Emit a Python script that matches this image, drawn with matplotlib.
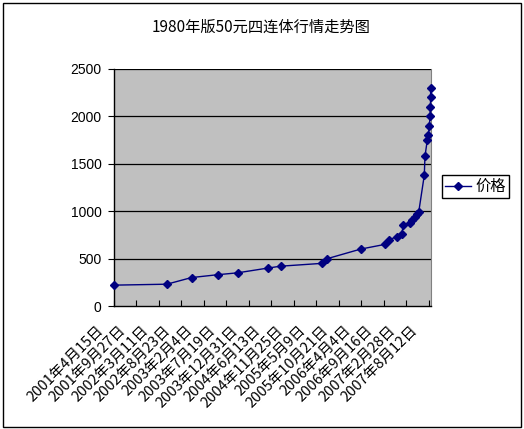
import pandas as pd
import matplotlib
matplotlib.use("Agg")
import matplotlib.pyplot as plt
import matplotlib.patches as patches
from matplotlib.transforms import ScaledTranslation

plt.rcParams['font.family'] = ['Noto Sans CJK SC', 'DejaVu Sans']

# price data
dates = ['2001-04-15', '2002-05-08', '2002-11-05', '2003-05-16', '2003-10-10',
         '2004-05-18', '2004-08-20', '2005-06-23', '2005-07-30', '2006-03-30',
         '2006-09-25', '2006-10-26', '2006-12-20', '2007-01-26', '2007-02-07',
         '2007-03-28', '2007-04-15', '2007-05-02', '2007-05-19', '2007-05-31',
         '2007-07-11', '2007-07-16', '2007-08-02', '2007-08-10', '2007-08-17',
         '2007-08-22', '2007-08-25', '2007-08-26', '2007-08-27']
prices = [220, 230, 300, 330, 350, 400, 420, 450, 500, 600,
          650, 700, 730, 760, 850, 880, 910, 940, 970, 990,
          1380, 1580, 1750, 1800, 1900, 2000, 2100, 2200, 2300]

tick_dates = ['2001-04-15', '2001-09-27', '2002-03-11', '2002-08-23', '2003-02-04',
              '2003-07-19', '2003-12-31', '2004-06-13', '2004-11-25', '2005-05-09',
              '2005-10-21', '2006-04-04', '2006-09-16', '2007-02-28', '2007-08-12']
tick_labels = ['2001年4月15日', '2001年9月27日', '2002年3月11日', '2002年8月23日',
               '2003年2月4日', '2003年7月19日', '2003年12月31日', '2004年6月13日',
               '2004年11月25日', '2005年5月9日', '2005年10月21日', '2006年4月4日',
               '2006年9月16日', '2007年2月28日', '2007年8月12日']
y_ticks = [0, 500, 1000, 1500, 2000, 2500]

W, H = 524, 429
fig = plt.figure(figsize=(W / 100, H / 100), dpi=100)
fig.patch.set_facecolor('white')

# outer chart border
fig.patches.append(patches.Rectangle((2.5 / W, 2.5 / H), 518 / W, 424 / H,
                                     transform=fig.transFigure, fill=False,
                                     edgecolor='black', linewidth=1))

ax = fig.add_axes([114 / W, 1 - 306 / H, (430.7 - 114) / W, (306 - 69) / H])
ax.set_facecolor('#C0C0C0')

ax.plot(pd.to_datetime(dates), prices, color='#000080', marker='D',
        markersize=4, linewidth=1, clip_on=False, label='价格', zorder=3)

ax.set_xlim(pd.Timestamp('2001-04-15'), pd.Timestamp('2007-08-27'))
ax.set_ylim(0, 2500)

for v in y_ticks[1:]:
    ax.axhline(v, color='black', linewidth=0.9, zorder=1)

ax.spines['top'].set_visible(False)
ax.spines['right'].set_color('#808080')
for s in ['left', 'bottom']:
    ax.spines[s].set_color('black')
    ax.spines[s].set_linewidth(1)

ax.set_yticks(y_ticks)
ax.set_yticklabels([str(v) for v in y_ticks], family='Liberation Sans', fontsize=10)
ax.tick_params(axis='y', direction='out', length=4, width=0.8, pad=5)

ax.set_xticks(pd.to_datetime(tick_dates))
ax.set_xticklabels(tick_labels, rotation=45, ha='right', va='center',
                   rotation_mode='anchor', fontsize=10.5)
ax.tick_params(axis='x', direction='in', length=4, width=0.8, pad=16)
offset = ScaledTranslation(-13 / 100, 0, fig.dpi_scale_trans)
for lab in ax.get_xticklabels():
    lab.set_transform(lab.get_transform() + offset)

fig.text(261 / W, 1 - 27 / H, '1980年版50元四连体行情走势图', ha='center',
         va='center', fontsize=11)

leg = ax.legend(loc='upper left', bbox_to_anchor=(441.5 / W, 1 - 175 / H),
                bbox_transform=fig.transFigure, borderaxespad=0, fontsize=11,
                handlelength=1.7, handletextpad=0.3, borderpad=0.2,
                fancybox=False, framealpha=1)
leg.get_frame().set_edgecolor('black')
leg.get_frame().set_linewidth(1)

fig.savefig('out.png', dpi=100)
